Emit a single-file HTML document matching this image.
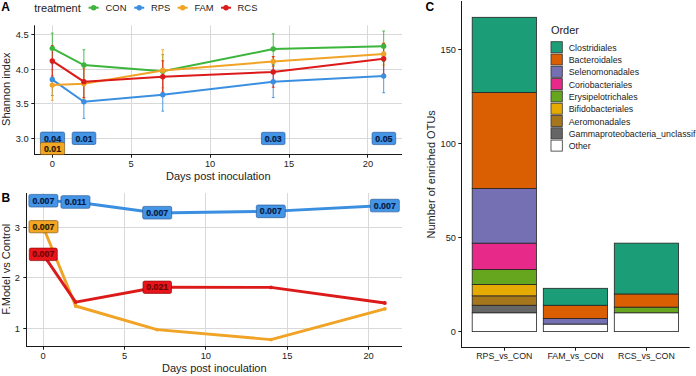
<!DOCTYPE html>
<html><head><meta charset="utf-8"><style>
html,body{margin:0;padding:0;background:#fff;overflow:hidden;}
svg{display:block;font-family:"Liberation Sans", sans-serif;}
</style></head><body>
<svg width="696" height="376" viewBox="0 0 696 376">
<rect width="696" height="376" fill="#fff"/>
<text x="1.20" y="10.60" font-size="12" text-anchor="start" font-weight="bold" fill="#000" >A</text>
<text x="34.30" y="11.70" font-size="11" text-anchor="start" font-weight="normal" fill="#222222" >treatment</text>
<line x1="88.60" y1="7.70" x2="98.60" y2="7.70" stroke="#3cb53c" stroke-width="2" />
<circle cx="93.6" cy="7.7" r="2.7" fill="#3cb53c"/>
<text x="105.60" y="11.40" font-size="9.4" text-anchor="start" font-weight="normal" fill="#222222" >CON</text>
<line x1="134.20" y1="7.70" x2="144.20" y2="7.70" stroke="#3b8fe0" stroke-width="2" />
<circle cx="139.2" cy="7.7" r="2.7" fill="#3b8fe0"/>
<text x="151.10" y="11.40" font-size="9.4" text-anchor="start" font-weight="normal" fill="#222222" >RPS</text>
<line x1="177.60" y1="7.70" x2="187.60" y2="7.70" stroke="#f0a324" stroke-width="2" />
<circle cx="182.6" cy="7.7" r="2.7" fill="#f0a324"/>
<text x="194.40" y="11.40" font-size="9.4" text-anchor="start" font-weight="normal" fill="#222222" >FAM</text>
<line x1="221.00" y1="7.70" x2="231.00" y2="7.70" stroke="#dc1a1a" stroke-width="2" />
<circle cx="226.0" cy="7.7" r="2.7" fill="#dc1a1a"/>
<text x="237.60" y="11.40" font-size="9.4" text-anchor="start" font-weight="normal" fill="#222222" >RCS</text>
<line x1="34.50" y1="138.50" x2="402.00" y2="138.50" stroke="#d9d9d9" stroke-width="1" />
<line x1="34.50" y1="103.50" x2="402.00" y2="103.50" stroke="#d9d9d9" stroke-width="1" />
<line x1="34.50" y1="69.50" x2="402.00" y2="69.50" stroke="#d9d9d9" stroke-width="1" />
<line x1="34.50" y1="34.50" x2="402.00" y2="34.50" stroke="#d9d9d9" stroke-width="1" />
<line x1="52.50" y1="25.30" x2="52.50" y2="154.50" stroke="#d9d9d9" stroke-width="1" />
<line x1="131.50" y1="25.30" x2="131.50" y2="154.50" stroke="#d9d9d9" stroke-width="1" />
<line x1="210.50" y1="25.30" x2="210.50" y2="154.50" stroke="#d9d9d9" stroke-width="1" />
<line x1="289.50" y1="25.30" x2="289.50" y2="154.50" stroke="#d9d9d9" stroke-width="1" />
<line x1="367.50" y1="25.30" x2="367.50" y2="154.50" stroke="#d9d9d9" stroke-width="1" />
<line x1="34.50" y1="25.30" x2="34.50" y2="155.00" stroke="#1a1a1a" stroke-width="1" />
<line x1="34.00" y1="154.50" x2="402.00" y2="154.50" stroke="#1a1a1a" stroke-width="1" />
<line x1="31.30" y1="138.50" x2="34.50" y2="138.50" stroke="#1a1a1a" stroke-width="1" />
<text x="28.60" y="141.88" font-size="9.3" text-anchor="end" font-weight="normal" fill="#222222" >3.0</text>
<line x1="31.30" y1="103.50" x2="34.50" y2="103.50" stroke="#1a1a1a" stroke-width="1" />
<text x="28.60" y="107.22" font-size="9.3" text-anchor="end" font-weight="normal" fill="#222222" >3.5</text>
<line x1="31.30" y1="69.50" x2="34.50" y2="69.50" stroke="#1a1a1a" stroke-width="1" />
<text x="28.60" y="72.55" font-size="9.3" text-anchor="end" font-weight="normal" fill="#222222" >4.0</text>
<line x1="31.30" y1="34.50" x2="34.50" y2="34.50" stroke="#1a1a1a" stroke-width="1" />
<text x="28.60" y="37.88" font-size="9.3" text-anchor="end" font-weight="normal" fill="#222222" >4.5</text>
<line x1="52.50" y1="154.50" x2="52.50" y2="157.70" stroke="#1a1a1a" stroke-width="1" />
<text x="52.30" y="167.25" font-size="9.3" text-anchor="middle" font-weight="normal" fill="#222222" >0</text>
<line x1="131.50" y1="154.50" x2="131.50" y2="157.70" stroke="#1a1a1a" stroke-width="1" />
<text x="131.20" y="167.25" font-size="9.3" text-anchor="middle" font-weight="normal" fill="#222222" >5</text>
<line x1="210.50" y1="154.50" x2="210.50" y2="157.70" stroke="#1a1a1a" stroke-width="1" />
<text x="210.10" y="167.25" font-size="9.3" text-anchor="middle" font-weight="normal" fill="#222222" >10</text>
<line x1="289.50" y1="154.50" x2="289.50" y2="157.70" stroke="#1a1a1a" stroke-width="1" />
<text x="289.00" y="167.25" font-size="9.3" text-anchor="middle" font-weight="normal" fill="#222222" >15</text>
<line x1="367.50" y1="154.50" x2="367.50" y2="157.70" stroke="#1a1a1a" stroke-width="1" />
<text x="367.90" y="167.25" font-size="9.3" text-anchor="middle" font-weight="normal" fill="#222222" >20</text>
<text x="10.20" y="89.20" font-size="11" text-anchor="middle" font-weight="normal" fill="#222222" transform="rotate(-90 10.2 89.2)">Shannon index</text>
<text x="218.25" y="180.30" font-size="11" text-anchor="middle" font-weight="normal" fill="#222222" >Days post inoculation</text>
<line x1="52.30" y1="33.12" x2="52.30" y2="63.62" stroke="#3cb53c" stroke-width="0.9" />
<line x1="50.90" y1="33.12" x2="53.70" y2="33.12" stroke="#3cb53c" stroke-width="0.9" />
<line x1="50.90" y1="63.62" x2="53.70" y2="63.62" stroke="#3cb53c" stroke-width="0.9" />
<line x1="83.86" y1="49.76" x2="83.86" y2="80.26" stroke="#3cb53c" stroke-width="0.9" />
<line x1="82.46" y1="49.76" x2="85.26" y2="49.76" stroke="#3cb53c" stroke-width="0.9" />
<line x1="82.46" y1="80.26" x2="85.26" y2="80.26" stroke="#3cb53c" stroke-width="0.9" />
<line x1="162.76" y1="54.61" x2="162.76" y2="87.89" stroke="#3cb53c" stroke-width="0.9" />
<line x1="161.36" y1="54.61" x2="164.16" y2="54.61" stroke="#3cb53c" stroke-width="0.9" />
<line x1="161.36" y1="87.89" x2="164.16" y2="87.89" stroke="#3cb53c" stroke-width="0.9" />
<line x1="273.22" y1="33.81" x2="273.22" y2="64.32" stroke="#3cb53c" stroke-width="0.9" />
<line x1="271.82" y1="33.81" x2="274.62" y2="33.81" stroke="#3cb53c" stroke-width="0.9" />
<line x1="271.82" y1="64.32" x2="274.62" y2="64.32" stroke="#3cb53c" stroke-width="0.9" />
<line x1="383.68" y1="31.04" x2="383.68" y2="61.54" stroke="#3cb53c" stroke-width="0.9" />
<line x1="382.28" y1="31.04" x2="385.08" y2="31.04" stroke="#3cb53c" stroke-width="0.9" />
<line x1="382.28" y1="61.54" x2="385.08" y2="61.54" stroke="#3cb53c" stroke-width="0.9" />
<line x1="52.30" y1="63.62" x2="52.30" y2="95.52" stroke="#3b8fe0" stroke-width="0.9" />
<line x1="50.90" y1="63.62" x2="53.70" y2="63.62" stroke="#3b8fe0" stroke-width="0.9" />
<line x1="50.90" y1="95.52" x2="53.70" y2="95.52" stroke="#3b8fe0" stroke-width="0.9" />
<line x1="83.86" y1="85.12" x2="83.86" y2="118.39" stroke="#3b8fe0" stroke-width="0.9" />
<line x1="82.46" y1="85.12" x2="85.26" y2="85.12" stroke="#3b8fe0" stroke-width="0.9" />
<line x1="82.46" y1="118.39" x2="85.26" y2="118.39" stroke="#3b8fe0" stroke-width="0.9" />
<line x1="162.76" y1="78.53" x2="162.76" y2="111.11" stroke="#3b8fe0" stroke-width="0.9" />
<line x1="161.36" y1="78.53" x2="164.16" y2="78.53" stroke="#3b8fe0" stroke-width="0.9" />
<line x1="161.36" y1="111.11" x2="164.16" y2="111.11" stroke="#3b8fe0" stroke-width="0.9" />
<line x1="273.22" y1="65.70" x2="273.22" y2="97.60" stroke="#3b8fe0" stroke-width="0.9" />
<line x1="271.82" y1="65.70" x2="274.62" y2="65.70" stroke="#3b8fe0" stroke-width="0.9" />
<line x1="271.82" y1="97.60" x2="274.62" y2="97.60" stroke="#3b8fe0" stroke-width="0.9" />
<line x1="383.68" y1="59.46" x2="383.68" y2="92.74" stroke="#3b8fe0" stroke-width="0.9" />
<line x1="382.28" y1="59.46" x2="385.08" y2="59.46" stroke="#3b8fe0" stroke-width="0.9" />
<line x1="382.28" y1="92.74" x2="385.08" y2="92.74" stroke="#3b8fe0" stroke-width="0.9" />
<line x1="52.30" y1="69.86" x2="52.30" y2="100.37" stroke="#f0a324" stroke-width="0.9" />
<line x1="50.90" y1="69.86" x2="53.70" y2="69.86" stroke="#f0a324" stroke-width="0.9" />
<line x1="50.90" y1="100.37" x2="53.70" y2="100.37" stroke="#f0a324" stroke-width="0.9" />
<line x1="83.86" y1="68.48" x2="83.86" y2="98.98" stroke="#f0a324" stroke-width="0.9" />
<line x1="82.46" y1="68.48" x2="85.26" y2="68.48" stroke="#f0a324" stroke-width="0.9" />
<line x1="82.46" y1="98.98" x2="85.26" y2="98.98" stroke="#f0a324" stroke-width="0.9" />
<line x1="162.76" y1="49.76" x2="162.76" y2="91.36" stroke="#f0a324" stroke-width="0.9" />
<line x1="161.36" y1="49.76" x2="164.16" y2="49.76" stroke="#f0a324" stroke-width="0.9" />
<line x1="161.36" y1="91.36" x2="164.16" y2="91.36" stroke="#f0a324" stroke-width="0.9" />
<line x1="273.22" y1="56.69" x2="273.22" y2="66.40" stroke="#f0a324" stroke-width="0.9" />
<line x1="271.82" y1="56.69" x2="274.62" y2="56.69" stroke="#f0a324" stroke-width="0.9" />
<line x1="271.82" y1="66.40" x2="274.62" y2="66.40" stroke="#f0a324" stroke-width="0.9" />
<line x1="383.68" y1="42.82" x2="383.68" y2="65.01" stroke="#f0a324" stroke-width="0.9" />
<line x1="382.28" y1="42.82" x2="385.08" y2="42.82" stroke="#f0a324" stroke-width="0.9" />
<line x1="382.28" y1="65.01" x2="385.08" y2="65.01" stroke="#f0a324" stroke-width="0.9" />
<line x1="52.30" y1="45.60" x2="52.30" y2="76.10" stroke="#dc1a1a" stroke-width="0.9" />
<line x1="50.90" y1="45.60" x2="53.70" y2="45.60" stroke="#dc1a1a" stroke-width="0.9" />
<line x1="50.90" y1="76.10" x2="53.70" y2="76.10" stroke="#dc1a1a" stroke-width="0.9" />
<line x1="83.86" y1="65.70" x2="83.86" y2="97.60" stroke="#dc1a1a" stroke-width="0.9" />
<line x1="82.46" y1="65.70" x2="85.26" y2="65.70" stroke="#dc1a1a" stroke-width="0.9" />
<line x1="82.46" y1="97.60" x2="85.26" y2="97.60" stroke="#dc1a1a" stroke-width="0.9" />
<line x1="162.76" y1="60.85" x2="162.76" y2="92.74" stroke="#dc1a1a" stroke-width="0.9" />
<line x1="161.36" y1="60.85" x2="164.16" y2="60.85" stroke="#dc1a1a" stroke-width="0.9" />
<line x1="161.36" y1="92.74" x2="164.16" y2="92.74" stroke="#dc1a1a" stroke-width="0.9" />
<line x1="273.22" y1="56.69" x2="273.22" y2="87.20" stroke="#dc1a1a" stroke-width="0.9" />
<line x1="271.82" y1="56.69" x2="274.62" y2="56.69" stroke="#dc1a1a" stroke-width="0.9" />
<line x1="271.82" y1="87.20" x2="274.62" y2="87.20" stroke="#dc1a1a" stroke-width="0.9" />
<line x1="383.68" y1="43.52" x2="383.68" y2="74.02" stroke="#dc1a1a" stroke-width="0.9" />
<line x1="382.28" y1="43.52" x2="385.08" y2="43.52" stroke="#dc1a1a" stroke-width="0.9" />
<line x1="382.28" y1="74.02" x2="385.08" y2="74.02" stroke="#dc1a1a" stroke-width="0.9" />
<polyline points="52.30,48.37 83.86,65.01 162.76,71.25 273.22,49.06 383.68,46.29" fill="none" stroke="#3cb53c" stroke-width="2"/>
<circle cx="52.30" cy="48.37" r="2.7" fill="#3cb53c"/>
<circle cx="83.86" cy="65.01" r="2.7" fill="#3cb53c"/>
<circle cx="162.76" cy="71.25" r="2.7" fill="#3cb53c"/>
<circle cx="273.22" cy="49.06" r="2.7" fill="#3cb53c"/>
<circle cx="383.68" cy="46.29" r="2.7" fill="#3cb53c"/>
<polyline points="52.30,79.57 83.86,101.76 162.76,94.82 273.22,81.65 383.68,76.10" fill="none" stroke="#3b8fe0" stroke-width="2"/>
<circle cx="52.30" cy="79.57" r="2.7" fill="#3b8fe0"/>
<circle cx="83.86" cy="101.76" r="2.7" fill="#3b8fe0"/>
<circle cx="162.76" cy="94.82" r="2.7" fill="#3b8fe0"/>
<circle cx="273.22" cy="81.65" r="2.7" fill="#3b8fe0"/>
<circle cx="383.68" cy="76.10" r="2.7" fill="#3b8fe0"/>
<polyline points="52.30,85.12 83.86,83.73 162.76,70.56 273.22,61.54 383.68,53.92" fill="none" stroke="#f0a324" stroke-width="2"/>
<circle cx="52.30" cy="85.12" r="2.7" fill="#f0a324"/>
<circle cx="83.86" cy="83.73" r="2.7" fill="#f0a324"/>
<circle cx="162.76" cy="70.56" r="2.7" fill="#f0a324"/>
<circle cx="273.22" cy="61.54" r="2.7" fill="#f0a324"/>
<circle cx="383.68" cy="53.92" r="2.7" fill="#f0a324"/>
<polyline points="52.30,60.85 83.86,81.65 162.76,76.80 273.22,71.94 383.68,58.77" fill="none" stroke="#dc1a1a" stroke-width="2"/>
<circle cx="52.30" cy="60.85" r="2.7" fill="#dc1a1a"/>
<circle cx="83.86" cy="81.65" r="2.7" fill="#dc1a1a"/>
<circle cx="162.76" cy="76.80" r="2.7" fill="#dc1a1a"/>
<circle cx="273.22" cy="71.94" r="2.7" fill="#dc1a1a"/>
<circle cx="383.68" cy="58.77" r="2.7" fill="#dc1a1a"/>
<rect x="40.40" y="132.10" width="24.2" height="12.4" rx="1.6" ry="1.6" fill="#4595e6" stroke="#2b5d9c" stroke-width="0.7"/>
<text x="52.50" y="141.90" font-size="8.8" text-anchor="middle" font-weight="bold" fill="#061a45" stroke="#061a45" stroke-width="0.2">0.04</text>
<rect x="72.20" y="132.10" width="23.6" height="12.4" rx="1.6" ry="1.6" fill="#4595e6" stroke="#2b5d9c" stroke-width="0.7"/>
<text x="84.00" y="141.90" font-size="8.8" text-anchor="middle" font-weight="bold" fill="#061a45" stroke="#061a45" stroke-width="0.2">0.01</text>
<rect x="40.40" y="142.40" width="24.2" height="12.2" rx="1.6" ry="1.6" fill="#f2a623" stroke="#8a5a10" stroke-width="0.7"/>
<text x="52.50" y="152.10" font-size="8.8" text-anchor="middle" font-weight="bold" fill="#2a1800" stroke="#2a1800" stroke-width="0.2">0.01</text>
<rect x="261.40" y="132.30" width="23.6" height="12.3" rx="1.6" ry="1.6" fill="#4595e6" stroke="#2b5d9c" stroke-width="0.7"/>
<text x="273.20" y="142.05" font-size="8.8" text-anchor="middle" font-weight="bold" fill="#061a45" stroke="#061a45" stroke-width="0.2">0.03</text>
<rect x="372.10" y="132.30" width="23.6" height="12.3" rx="1.6" ry="1.6" fill="#4595e6" stroke="#2b5d9c" stroke-width="0.7"/>
<text x="383.90" y="142.05" font-size="8.8" text-anchor="middle" font-weight="bold" fill="#061a45" stroke="#061a45" stroke-width="0.2">0.05</text>
<text x="1.40" y="202.20" font-size="12" text-anchor="start" font-weight="bold" fill="#000" >B</text>
<line x1="26.50" y1="328.50" x2="402.00" y2="328.50" stroke="#d9d9d9" stroke-width="1" />
<line x1="26.50" y1="277.50" x2="402.00" y2="277.50" stroke="#d9d9d9" stroke-width="1" />
<line x1="26.50" y1="227.50" x2="402.00" y2="227.50" stroke="#d9d9d9" stroke-width="1" />
<line x1="43.50" y1="193.00" x2="43.50" y2="346.50" stroke="#d9d9d9" stroke-width="1" />
<line x1="124.50" y1="193.00" x2="124.50" y2="346.50" stroke="#d9d9d9" stroke-width="1" />
<line x1="205.50" y1="193.00" x2="205.50" y2="346.50" stroke="#d9d9d9" stroke-width="1" />
<line x1="287.50" y1="193.00" x2="287.50" y2="346.50" stroke="#d9d9d9" stroke-width="1" />
<line x1="368.50" y1="193.00" x2="368.50" y2="346.50" stroke="#d9d9d9" stroke-width="1" />
<line x1="26.50" y1="193.00" x2="26.50" y2="347.00" stroke="#1a1a1a" stroke-width="1" />
<line x1="26.00" y1="346.50" x2="402.00" y2="346.50" stroke="#1a1a1a" stroke-width="1" />
<line x1="23.30" y1="328.50" x2="26.50" y2="328.50" stroke="#1a1a1a" stroke-width="1" />
<text x="20.00" y="331.78" font-size="9.3" text-anchor="end" font-weight="normal" fill="#222222" >1</text>
<line x1="23.30" y1="277.50" x2="26.50" y2="277.50" stroke="#1a1a1a" stroke-width="1" />
<text x="20.00" y="281.18" font-size="9.3" text-anchor="end" font-weight="normal" fill="#222222" >2</text>
<line x1="23.30" y1="227.50" x2="26.50" y2="227.50" stroke="#1a1a1a" stroke-width="1" />
<text x="20.00" y="230.58" font-size="9.3" text-anchor="end" font-weight="normal" fill="#222222" >3</text>
<line x1="43.50" y1="346.50" x2="43.50" y2="349.70" stroke="#1a1a1a" stroke-width="1" />
<text x="43.10" y="359.05" font-size="9.3" text-anchor="middle" font-weight="normal" fill="#222222" >0</text>
<line x1="124.50" y1="346.50" x2="124.50" y2="349.70" stroke="#1a1a1a" stroke-width="1" />
<text x="124.47" y="359.05" font-size="9.3" text-anchor="middle" font-weight="normal" fill="#222222" >5</text>
<line x1="205.50" y1="346.50" x2="205.50" y2="349.70" stroke="#1a1a1a" stroke-width="1" />
<text x="205.85" y="359.05" font-size="9.3" text-anchor="middle" font-weight="normal" fill="#222222" >10</text>
<line x1="287.50" y1="346.50" x2="287.50" y2="349.70" stroke="#1a1a1a" stroke-width="1" />
<text x="287.22" y="359.05" font-size="9.3" text-anchor="middle" font-weight="normal" fill="#222222" >15</text>
<line x1="368.50" y1="346.50" x2="368.50" y2="349.70" stroke="#1a1a1a" stroke-width="1" />
<text x="368.60" y="359.05" font-size="9.3" text-anchor="middle" font-weight="normal" fill="#222222" >20</text>
<text x="10.20" y="269.30" font-size="11" text-anchor="middle" font-weight="normal" fill="#222222" transform="rotate(-90 10.2 269.3)">F.Model vs Control</text>
<text x="214.30" y="372.40" font-size="11" text-anchor="middle" font-weight="normal" fill="#222222" >Days post inoculation</text>
<polyline points="43.10,226.70 75.65,306.00 157.02,329.60 270.95,339.60 384.88,308.80" fill="none" stroke="#f0a324" stroke-width="2.9" stroke-linejoin="round"/>
<circle cx="43.10" cy="226.70" r="1.9" fill="#f0a324"/>
<circle cx="75.65" cy="306.00" r="1.9" fill="#f0a324"/>
<circle cx="157.02" cy="329.60" r="1.9" fill="#f0a324"/>
<circle cx="270.95" cy="339.60" r="1.9" fill="#f0a324"/>
<circle cx="384.88" cy="308.80" r="1.9" fill="#f0a324"/>
<polyline points="43.10,254.35 75.65,302.10 157.02,287.25 270.95,287.40 384.88,303.00" fill="none" stroke="#dc1a1a" stroke-width="2.9" stroke-linejoin="round"/>
<circle cx="43.10" cy="254.35" r="1.9" fill="#dc1a1a"/>
<circle cx="75.65" cy="302.10" r="1.9" fill="#dc1a1a"/>
<circle cx="157.02" cy="287.25" r="1.9" fill="#dc1a1a"/>
<circle cx="270.95" cy="287.40" r="1.9" fill="#dc1a1a"/>
<circle cx="384.88" cy="303.00" r="1.9" fill="#dc1a1a"/>
<polyline points="43.10,200.70 75.65,202.00 157.02,213.00 270.95,211.35 384.88,205.55" fill="none" stroke="#3b8fe0" stroke-width="2.9" stroke-linejoin="round"/>
<circle cx="43.10" cy="200.70" r="1.9" fill="#3b8fe0"/>
<circle cx="75.65" cy="202.00" r="1.9" fill="#3b8fe0"/>
<circle cx="157.02" cy="213.00" r="1.9" fill="#3b8fe0"/>
<circle cx="270.95" cy="211.35" r="1.9" fill="#3b8fe0"/>
<circle cx="384.88" cy="205.55" r="1.9" fill="#3b8fe0"/>
<rect x="28.90" y="194.40" width="29" height="12.6" rx="1.6" ry="1.6" fill="#4595e6" stroke="#2b5d9c" stroke-width="0.7"/>
<text x="43.40" y="203.80" font-size="8.8" text-anchor="middle" font-weight="bold" fill="#061a45" stroke="#061a45" stroke-width="0.2">0.007</text>
<rect x="60.95" y="195.70" width="29" height="12.6" rx="1.6" ry="1.6" fill="#4595e6" stroke="#2b5d9c" stroke-width="0.7"/>
<text x="75.45" y="205.10" font-size="8.8" text-anchor="middle" font-weight="bold" fill="#061a45" stroke="#061a45" stroke-width="0.2">0.011</text>
<rect x="142.70" y="206.40" width="29" height="12.6" rx="1.6" ry="1.6" fill="#4595e6" stroke="#2b5d9c" stroke-width="0.7"/>
<text x="157.20" y="215.80" font-size="8.8" text-anchor="middle" font-weight="bold" fill="#061a45" stroke="#061a45" stroke-width="0.2">0.007</text>
<rect x="256.30" y="205.05" width="29" height="12.6" rx="1.6" ry="1.6" fill="#4595e6" stroke="#2b5d9c" stroke-width="0.7"/>
<text x="270.80" y="214.45" font-size="8.8" text-anchor="middle" font-weight="bold" fill="#061a45" stroke="#061a45" stroke-width="0.2">0.007</text>
<rect x="370.30" y="199.25" width="29" height="12.6" rx="1.6" ry="1.6" fill="#4595e6" stroke="#2b5d9c" stroke-width="0.7"/>
<text x="384.80" y="208.65" font-size="8.8" text-anchor="middle" font-weight="bold" fill="#061a45" stroke="#061a45" stroke-width="0.2">0.007</text>
<rect x="29.00" y="220.60" width="29" height="12.2" rx="1.6" ry="1.6" fill="#f2a623" stroke="#8a5a10" stroke-width="0.7"/>
<text x="43.50" y="229.80" font-size="8.8" text-anchor="middle" font-weight="bold" fill="#2a1800" stroke="#2a1800" stroke-width="0.2">0.007</text>
<rect x="29.30" y="248.10" width="28" height="12.5" rx="1.6" ry="1.6" fill="#ea151a" stroke="#8a0c0c" stroke-width="0.7"/>
<text x="43.30" y="257.45" font-size="8.8" text-anchor="middle" font-weight="bold" fill="#6a0606" stroke="#6a0606" stroke-width="0.2">0.007</text>
<rect x="143.00" y="281.10" width="28.5" height="12.3" rx="1.6" ry="1.6" fill="#ea151a" stroke="#8a0c0c" stroke-width="0.7"/>
<text x="157.25" y="290.35" font-size="8.8" text-anchor="middle" font-weight="bold" fill="#6a0606" stroke="#6a0606" stroke-width="0.2">0.021</text>
<text x="425.60" y="10.70" font-size="12" text-anchor="start" font-weight="bold" fill="#000" >C</text>
<rect x="472.2" y="312.78" width="64.20" height="18.82" fill="#FFFFFF" stroke="#222" stroke-width="0.8"/>
<rect x="472.2" y="305.25" width="64.20" height="7.53" fill="#666666" stroke="#222" stroke-width="0.8"/>
<rect x="472.2" y="295.84" width="64.20" height="9.41" fill="#A6761D" stroke="#222" stroke-width="0.8"/>
<rect x="472.2" y="284.55" width="64.20" height="11.29" fill="#E6AB02" stroke="#222" stroke-width="0.8"/>
<rect x="472.2" y="269.49" width="64.20" height="15.06" fill="#66A61E" stroke="#222" stroke-width="0.8"/>
<rect x="472.2" y="243.15" width="64.20" height="26.35" fill="#E7298A" stroke="#222" stroke-width="0.8"/>
<rect x="472.2" y="188.57" width="64.20" height="54.58" fill="#7570B3" stroke="#222" stroke-width="0.8"/>
<rect x="472.2" y="92.59" width="64.20" height="95.98" fill="#D95F02" stroke="#222" stroke-width="0.8"/>
<rect x="472.2" y="17.31" width="64.20" height="75.28" fill="#1B9E77" stroke="#222" stroke-width="0.8"/>
<rect x="543.3" y="324.07" width="64.30" height="7.53" fill="#FFFFFF" stroke="#222" stroke-width="0.8"/>
<rect x="543.3" y="318.43" width="64.30" height="5.65" fill="#7570B3" stroke="#222" stroke-width="0.8"/>
<rect x="543.3" y="305.25" width="64.30" height="13.17" fill="#D95F02" stroke="#222" stroke-width="0.8"/>
<rect x="543.3" y="288.31" width="64.30" height="16.94" fill="#1B9E77" stroke="#222" stroke-width="0.8"/>
<rect x="614.3" y="312.78" width="64.30" height="18.82" fill="#FFFFFF" stroke="#222" stroke-width="0.8"/>
<rect x="614.3" y="307.13" width="64.30" height="5.65" fill="#66A61E" stroke="#222" stroke-width="0.8"/>
<rect x="614.3" y="293.96" width="64.30" height="13.17" fill="#D95F02" stroke="#222" stroke-width="0.8"/>
<rect x="614.3" y="243.15" width="64.30" height="50.81" fill="#1B9E77" stroke="#222" stroke-width="0.8"/>
<line x1="461.50" y1="1.00" x2="461.50" y2="348.00" stroke="#1a1a1a" stroke-width="1" />
<line x1="461.00" y1="347.50" x2="689.70" y2="347.50" stroke="#1a1a1a" stroke-width="1" />
<line x1="458.30" y1="331.50" x2="461.50" y2="331.50" stroke="#1a1a1a" stroke-width="1" />
<text x="455.90" y="334.94" font-size="9.2" text-anchor="end" font-weight="normal" fill="#222222" >0</text>
<line x1="458.30" y1="237.50" x2="461.50" y2="237.50" stroke="#1a1a1a" stroke-width="1" />
<text x="455.90" y="240.84" font-size="9.2" text-anchor="end" font-weight="normal" fill="#222222" >50</text>
<line x1="458.30" y1="143.50" x2="461.50" y2="143.50" stroke="#1a1a1a" stroke-width="1" />
<text x="455.90" y="146.74" font-size="9.2" text-anchor="end" font-weight="normal" fill="#222222" >100</text>
<line x1="458.30" y1="49.50" x2="461.50" y2="49.50" stroke="#1a1a1a" stroke-width="1" />
<text x="455.90" y="52.64" font-size="9.2" text-anchor="end" font-weight="normal" fill="#222222" >150</text>
<line x1="504.50" y1="347.50" x2="504.50" y2="350.70" stroke="#1a1a1a" stroke-width="1" />
<text x="504.30" y="359.20" font-size="8.8" text-anchor="middle" font-weight="normal" fill="#222222" >RPS_vs_CON</text>
<line x1="575.50" y1="347.50" x2="575.50" y2="350.70" stroke="#1a1a1a" stroke-width="1" />
<text x="575.50" y="359.20" font-size="8.8" text-anchor="middle" font-weight="normal" fill="#222222" >FAM_vs_CON</text>
<line x1="646.50" y1="347.50" x2="646.50" y2="350.70" stroke="#1a1a1a" stroke-width="1" />
<text x="646.40" y="359.20" font-size="8.8" text-anchor="middle" font-weight="normal" fill="#222222" >RCS_vs_CON</text>
<text x="435.00" y="174.35" font-size="11" text-anchor="middle" font-weight="normal" fill="#222222" transform="rotate(-90 435 174.35)">Number of enriched OTUs</text>
<text x="550.90" y="34.10" font-size="11" text-anchor="start" font-weight="normal" fill="#222222" >Order</text>
<rect x="551.0" y="41.70" width="11.3" height="11.0" fill="#1B9E77" stroke="#333" stroke-width="0.8"/>
<text x="568.70" y="50.70" font-size="8.8" text-anchor="start" font-weight="normal" fill="#222222" >Clostridiales</text>
<rect x="551.0" y="54.00" width="11.3" height="11.0" fill="#D95F02" stroke="#333" stroke-width="0.8"/>
<text x="568.70" y="63.00" font-size="8.8" text-anchor="start" font-weight="normal" fill="#222222" >Bacteroidales</text>
<rect x="551.0" y="66.30" width="11.3" height="11.0" fill="#7570B3" stroke="#333" stroke-width="0.8"/>
<text x="568.70" y="75.30" font-size="8.8" text-anchor="start" font-weight="normal" fill="#222222" >Selenomonadales</text>
<rect x="551.0" y="78.60" width="11.3" height="11.0" fill="#E7298A" stroke="#333" stroke-width="0.8"/>
<text x="568.70" y="87.60" font-size="8.8" text-anchor="start" font-weight="normal" fill="#222222" >Coriobacteriales</text>
<rect x="551.0" y="90.90" width="11.3" height="11.0" fill="#66A61E" stroke="#333" stroke-width="0.8"/>
<text x="568.70" y="99.90" font-size="8.8" text-anchor="start" font-weight="normal" fill="#222222" >Erysipelotrichales</text>
<rect x="551.0" y="103.20" width="11.3" height="11.0" fill="#E6AB02" stroke="#333" stroke-width="0.8"/>
<text x="568.70" y="112.20" font-size="8.8" text-anchor="start" font-weight="normal" fill="#222222" >Bifidobacteriales</text>
<rect x="551.0" y="115.50" width="11.3" height="11.0" fill="#A6761D" stroke="#333" stroke-width="0.8"/>
<text x="568.70" y="124.50" font-size="8.8" text-anchor="start" font-weight="normal" fill="#222222" >Aeromonadales</text>
<rect x="551.0" y="127.80" width="11.3" height="11.0" fill="#666666" stroke="#333" stroke-width="0.8"/>
<text x="568.70" y="136.80" font-size="8.8" text-anchor="start" font-weight="normal" fill="#222222" >Gammaproteobacteria_unclassif</text>
<rect x="551.0" y="140.10" width="11.3" height="11.0" fill="#FFFFFF" stroke="#333" stroke-width="0.8"/>
<text x="568.70" y="149.10" font-size="8.8" text-anchor="start" font-weight="normal" fill="#222222" >Other</text>
</svg>
</body></html>
